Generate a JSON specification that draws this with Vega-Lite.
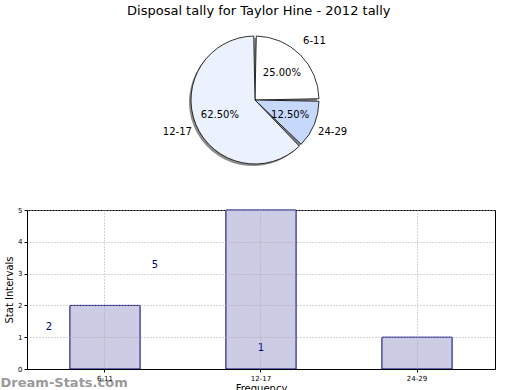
{
  "$schema": "https://vega.github.io/schema/vega-lite/v6.json",
  "background": "white",
  "padding": {"left": 0, "top": 5, "right": 5, "bottom": 5},
  "spacing": 27,
  "title": {"text": "Disposal tally for Taylor Hine - 2012 tally", "anchor": "middle", "dx": 11, "fontSize": 13, "fontWeight": "normal", "font": "DejaVu Sans", "color": "black", "offset": 4},
  "config": {"font": "DejaVu Sans", "view": {"stroke": null}},
  "data": {"values": [
    {"range": "6-11", "count": 2, "share": 0.25},
    {"range": "12-17", "count": 5, "share": 0.625},
    {"range": "24-29", "count": 1, "share": 0.125}
  ]},
  "vconcat": [
    {
      "width": 456,
      "height": 156,
      "view": {"stroke": null},
      "encoding": {
        "theta": {"field": "share", "type": "quantitative", "stack": true},
        "order": {"field": "range", "type": "nominal", "sort": "descending"}
      },
      "layer": [
        {"mark": {"type": "arc", "outerRadius": 64, "padAngle": 0.04, "fill": "#8c8c8c", "xOffset": -2, "yOffset": 2}},
        {"mark": {"type": "arc", "outerRadius": 64, "padAngle": 0.04, "stroke": "black", "strokeWidth": 0.8},
         "encoding": {"color": {"field": "range", "type": "nominal", "scale": {"domain": ["6-11", "12-17", "24-29"], "range": ["#ffffff", "#ebf1fd", "#c6d9fd"]}, "legend": null}}},
        {"mark": {"type": "text", "radius": 38, "fontSize": 10, "color": "black"},
         "encoding": {"text": {"field": "share", "type": "quantitative", "format": ".2%"}}},
        {"mark": {"type": "text", "radius": 84, "fontSize": 10, "color": "black"},
         "encoding": {"text": {"field": "range", "type": "nominal"}}}
      ]
    },
    {
      "width": 468,
      "height": 159,
      "view": {"stroke": "black", "strokeWidth": 1},
      "title": {"text": "Dream-Stats.com", "orient": "bottom", "anchor": "start", "fontSize": 13, "color": "#9a9a9a", "fontWeight": "bold", "dx": -4, "offset": -16},
      "layer": [
        {
          "mark": {"type": "bar", "fill": "#ccccE5", "stroke": "#000080", "strokeWidth": 1},
          "encoding": {
            "x": {"field": "range", "type": "nominal", "sort": ["6-11", "12-17", "24-29"],
                  "scale": {"paddingInner": 0.55, "paddingOuter": 0.275},
                  "axis": {"title": "Frequency", "titleFontSize": 10, "titleFontWeight": "normal", "labelFontSize": 7, "labelAngle": 0, "grid": true, "gridDash": [1, 2], "gridColor": "#aaaaaa", "bandPosition": 0.5, "domainColor": "black", "tickColor": "black", "tickSize": 3, "labelColor": "black", "titleColor": "black", "zindex": 1, "labelPadding": 2, "titlePadding": 2}},
            "y": {"field": "count", "type": "quantitative", "scale": {"domain": [0, 5]},
                  "axis": {"title": "Stat Intervals", "titleFontSize": 10, "titleFontWeight": "normal", "labelFontSize": 7, "values": [0, 1, 2, 3, 4, 5], "grid": true, "gridDash": [1, 2], "gridColor": "#aaaaaa", "domainColor": "black", "tickColor": "black", "tickSize": 3, "labelColor": "black", "titleColor": "black", "zindex": 1, "labelPadding": 2, "titlePadding": 3}}
          }
        },
        {
          "mark": {"type": "text", "color": "#000080", "fontSize": 10},
          "encoding": {
            "x": {"field": "range", "type": "nominal", "scale": {"type": "point", "domain": ["6-11", "12-17", "24-29", " ", "  "], "padding": 0.2075}, "axis": null},
            "y": {"field": "count", "type": "quantitative", "scale": {"domain": [0, 7.63]}, "axis": null},
            "text": {"field": "count", "type": "quantitative"}
          }
        }
      ],
      "resolve": {"scale": {"x": "independent", "y": "independent"}}
    }
  ]
}
